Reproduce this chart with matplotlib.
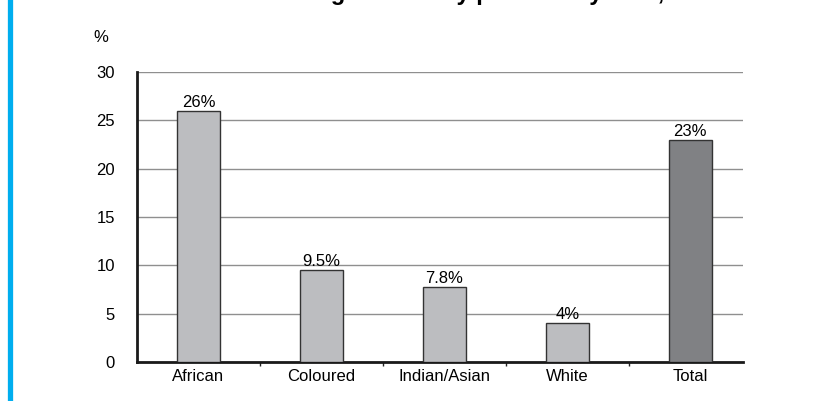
import matplotlib
matplotlib.use('Agg')
import matplotlib.pyplot as plt
from matplotlib.lines import Line2D
import numpy as np

plt.rcParams['font.family'] = ['Liberation Sans', 'DejaVu Sans']

# DATA:
groups = ['African', 'Coloured', 'Indian/Asian', 'White', 'Total']
values = [26, 9.5, 7.8, 4, 23]
value_labels = ['26%', '9.5%', '7.8%', '4%', '23%']
bar_colors = ['#bcbdc0', '#bcbdc0', '#bcbdc0', '#bcbdc0', '#808184']
y_ticks = [0, 5, 10, 15, 20, 25, 30]

fig = plt.figure(figsize=(8.14, 4.01), dpi=100)
ax = fig.add_axes([137 / 814, 39 / 401, 606 / 814, 290 / 401])

x = np.arange(len(groups))
ax.bar(x, values, width=0.35, color=bar_colors, edgecolor='#333333', linewidth=1.0, zorder=3)

for xi, v, lab in zip(x, values, value_labels):
    ax.text(xi, v + 0.1, lab, ha='center', va='bottom', fontsize=12, zorder=4)

ax.set_xlim(-0.5, 4.43)
ax.set_ylim(0, 30)
ax.set_yticks(y_ticks)
ax.set_yticklabels([str(t) for t in y_ticks], fontsize=12)
ax.tick_params(axis='y', length=0, pad=16)
ax.set_xticks(x)
ax.set_xticklabels(groups, fontsize=12)
ax.tick_params(axis='x', which='major', length=0, pad=5)
ax.set_xticks([0.5, 1.5, 2.5, 3.5], minor=True)
ax.tick_params(axis='x', which='minor', length=3, width=1, color='#222222', direction='out')

# gridlines
ax.yaxis.grid(True, color='#8f8f8f', linewidth=1.0, zorder=0)
ax.set_axisbelow(True)
for side in ['top', 'right']:
    ax.spines[side].set_visible(False)
ax.spines['left'].set_linewidth(2)
ax.spines['bottom'].set_linewidth(2)
ax.spines['left'].set_color('#1a1a1a')
ax.spines['bottom'].set_color('#1a1a1a')

ax.text(-0.047, 1.118, '%', transform=ax.transAxes, fontsize=12, ha='right', va='center')

# heading (mostly above the top edge)
fig.text(231 / 814, 1.0, 'Percentage of elderly persons by race, 2008', fontsize=17,
         fontweight='bold', ha='left', va='baseline')

# blue rule on the left
fig.add_artist(Line2D([10 / 814, 10 / 814], [0, 1], color='#00aeef', linewidth=3.8,
                      transform=fig.transFigure))

fig.savefig('out.png', dpi=100)
